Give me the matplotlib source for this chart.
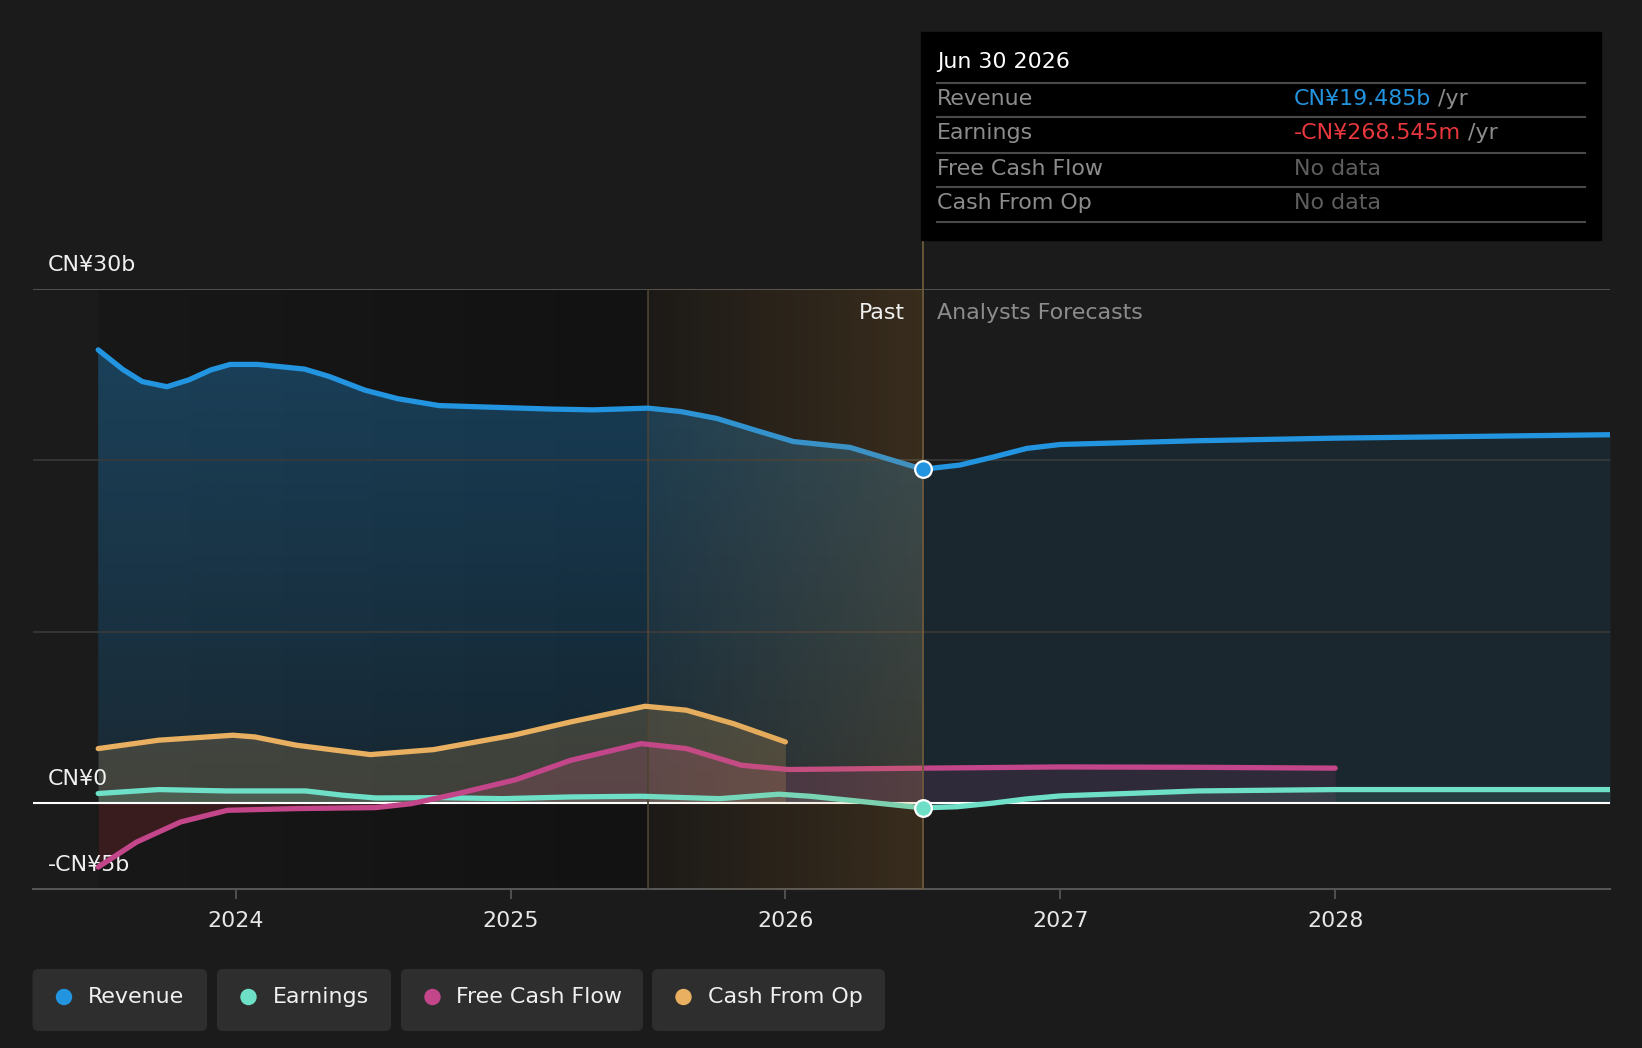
import numpy as np
import matplotlib
matplotlib.use("Agg")
import matplotlib.pyplot as plt
from matplotlib.patches import FancyBboxPatch, Circle, Rectangle, Polygon

W, H = 1642, 1048

# values in CN¥ billions, x in decimal years
rev_x = [2023.5, 2023.59, 2023.66, 2023.75, 2023.83, 2023.91, 2023.98, 2024.08, 2024.25,
         2024.34, 2024.47, 2024.59, 2024.74, 2025.0, 2025.14, 2025.3, 2025.5, 2025.62,
         2025.75, 2025.91, 2026.03, 2026.235, 2026.33, 2026.5, 2026.635, 2026.757, 2026.878,
         2027.0, 2027.5, 2028.0, 2028.5, 2029.0]
rev_y = [26.45, 25.3, 24.6, 24.3, 24.7, 25.28, 25.6, 25.6, 25.33,
         24.9, 24.1, 23.6, 23.2, 23.07, 23.0, 22.95, 23.05, 22.85,
         22.45, 21.67, 21.1, 20.76, 20.3, 19.485, 19.73, 20.2, 20.7,
         20.93, 21.15, 21.3, 21.4, 21.5]

earn_x = [2023.5, 2023.72, 2023.97, 2024.255, 2024.39, 2024.51, 2024.74, 2024.97, 2025.22,
          2025.475, 2025.76, 2025.976, 2026.09, 2026.25, 2026.5, 2026.625, 2026.75, 2026.875,
          2027.0, 2027.5, 2028.0, 2029.0]
earn_y = [0.57, 0.8, 0.72, 0.72, 0.47, 0.31, 0.33, 0.27, 0.37,
          0.41, 0.27, 0.53, 0.41, 0.15, -0.2685, -0.2, 0.0, 0.25,
          0.43, 0.72, 0.8, 0.8]

fcf_x = [2023.5, 2023.64, 2023.8, 2023.97, 2024.22, 2024.51, 2024.64, 2024.81, 2025.02,
         2025.22, 2025.475, 2025.64, 2025.84, 2026.01, 2026.5, 2027.0, 2027.5, 2028.0]
fcf_y = [-3.72, -2.26, -1.09, -0.41, -0.31, -0.25, -0.02, 0.57, 1.38,
         2.51, 3.48, 3.19, 2.22, 1.97, 2.05, 2.12, 2.1, 2.05]

cfo_x = [2023.5, 2023.72, 2023.99, 2024.07, 2024.22, 2024.49, 2024.72, 2025.01, 2025.22,
         2025.49, 2025.64, 2025.81, 2026.0]
cfo_y = [3.19, 3.68, 3.97, 3.87, 3.39, 2.84, 3.13, 3.97, 4.75,
         5.66, 5.43, 4.65, 3.58]

year_ticks = [2024, 2025, 2026, 2027, 2028]
y_labels = {30: "CN¥30b", 0: "CN¥0", -5: "-CN¥5b"}
now_x = 2026.5
shade_x = 2025.5

C_REV = "#2394df"
C_EARN = "#6ee0c8"
C_FCF = "#c4468a"
C_CFO = "#e8b060"
BG = "#1b1b1b"
FS = 15.9

fig = plt.figure(figsize=(W / 100, H / 100), dpi=100, facecolor=BG)
ax = fig.add_axes([32.5 / W, 1 - 889 / H, (1610 - 32.5) / W, 600 / H])
ax.set_facecolor(BG)
X0, X1 = 2023.261, 2029.0

# past background gradient (darker)
g = np.linspace(0, 1, 256)
past = np.zeros((1, 256, 4))
past[..., :3] = ((24 - 6 * g) / 255.0)[None, :, None]
past[..., 3] = 1
ax.imshow(past, extent=[rev_x[0], shade_x, -5, 30], aspect="auto", zorder=0)
ax.add_patch(Rectangle((shade_x, -5), now_x - shade_x, 35, color="#161616", zorder=0))

# revenue fill (past, with vertical gradient)
rx = np.array(rev_x)
ry = np.array(rev_y)
pm = rx <= now_x
verts = list(zip(rx[pm], ry[pm])) + [(now_x, 0), (rev_x[0], 0)]
clip = Polygon(verts, closed=True, fc="none", ec="none")
ax.add_patch(clip)
grad = np.zeros((256, 1, 4))
grad[..., 0] = 35 / 255
grad[..., 1] = 148 / 255
grad[..., 2] = 223 / 255
grad[..., 3] = np.linspace(0.34, 0.14, 256)[:, None]
im = ax.imshow(grad, extent=[rev_x[0], now_x, 0, 27], aspect="auto", zorder=1)
im.set_clip_path(clip)
fm = rx >= now_x
ax.fill_between(rx[fm], ry[fm], 0, color=C_REV, alpha=0.1, lw=0, zorder=1)

# other fills
ex = np.array(earn_x)
ey = np.array(earn_y)
ax.fill_between(ex[ex <= now_x], ey[ex <= now_x], 0, color=C_EARN, alpha=0.18, lw=0, zorder=2)
ax.fill_between(ex[ex >= now_x], ey[ex >= now_x], 0, color=C_EARN, alpha=0.12, lw=0, zorder=2)
fx = np.array(fcf_x)
fy = np.array(fcf_y)
pf = fx <= now_x
ax.fill_between(fx[pf], fy[pf], 0, where=fy[pf] >= 0, interpolate=True,
                color=C_FCF, alpha=0.2, lw=0, zorder=2)
ax.fill_between(fx[pf], fy[pf], 0, where=fy[pf] <= 0, interpolate=True,
                color="#8a2a30", alpha=0.3, lw=0, zorder=2)
ax.fill_between(fx[fx >= now_x], fy[fx >= now_x], 0, color=C_FCF, alpha=0.12, lw=0, zorder=2)
ax.fill_between(cfo_x, cfo_y, 0, color=C_CFO, alpha=0.2, lw=0, zorder=2)

# grid / reference lines
for v in [10, 20]:
    ax.axhline(v, color="#3a3a3a", lw=1.2, zorder=1.5)
ax.axhline(30, color="#555555", lw=1.3, zorder=3)
ax.axhline(0, color="white", lw=1.5, zorder=3)
ax.axvline(shade_x, color="#4a4234", lw=1.2, zorder=3)

# lines
ax.plot(rev_x, rev_y, color=C_REV, lw=3.8, solid_capstyle="round", solid_joinstyle="round", zorder=5)
ax.plot(earn_x, earn_y, color=C_EARN, lw=3.8, solid_capstyle="round", solid_joinstyle="round", zorder=5)
ax.plot(fcf_x, fcf_y, color=C_FCF, lw=3.8, solid_capstyle="round", solid_joinstyle="round", zorder=5.2)
ax.plot(cfo_x, cfo_y, color=C_CFO, lw=3.8, solid_capstyle="round", solid_joinstyle="round", zorder=5.2)

# brown highlight over last past year
ov = np.zeros((1, 256, 4))
ov[..., 0] = 197 / 255
ov[..., 1] = 137 / 255
ov[..., 2] = 57 / 255
ov[..., 3] = np.linspace(0.04, 0.2, 256)[None, :]
ax.imshow(ov, extent=[shade_x, now_x, -5, 30], aspect="auto", zorder=6)
ax.plot([now_x, now_x], [-5, 32.86], color="#6e5a3c", lw=1.3, zorder=6.5, clip_on=False)

# markers at the tooltip date
ax.plot([now_x], [rev_y[rev_x.index(now_x)]], "o", ms=12, color=C_REV, mec="white", mew=1.6, zorder=8)
ax.plot([now_x], [earn_y[earn_x.index(now_x)]], "o", ms=12, color=C_EARN, mec="white", mew=1.6, zorder=8)

ax.set_xlim(X0, X1)
ax.set_ylim(-5, 30)
ax.set_yticks([])
ax.set_xticks(year_ticks)
ax.set_xticklabels([str(y) for y in year_ticks])
ax.tick_params(axis="x", colors="#555555", length=7, width=1.3, pad=9, labelsize=FS, labelcolor="#e8e8e8")
for s in ["top", "left", "right"]:
    ax.spines[s].set_visible(False)
ax.spines["bottom"].set_color("#555555")
ax.spines["bottom"].set_linewidth(1.5)

for v, lab in y_labels.items():
    ax.annotate(lab, xy=(0, v), xycoords=("axes fraction", "data"), xytext=(11.2, 17.3),
                textcoords="offset points", va="center", ha="left", color="#f0f0f0", fontsize=FS)

# overlay in pixel coordinates for tooltip, labels and legend
ov_ax = fig.add_axes([0, 0, 1, 1], facecolor="none")
ov_ax.set_xlim(0, W)
ov_ax.set_ylim(H, 0)
ov_ax.axis("off")

ov_ax.text(905, 313, "Past", ha="right", va="center", color="#f0f0f0", fontsize=FS)
ov_ax.text(937, 313, "Analysts Forecasts", ha="left", va="center", color="#8c8c8c", fontsize=FS)

ov_ax.add_patch(Rectangle((921, 32), 680, 208, color="black", zorder=1))
ov_ax.text(937, 62, "Jun 30 2026", ha="left", va="center", color="white", fontsize=FS, zorder=2)
for yy in [82.7, 116.7, 152.7, 186.7, 222]:
    ov_ax.plot([937, 1585], [yy, yy], color="#4a4a4a", lw=1.5, zorder=2)
rows = [("Revenue", "CN¥19.485b", C_REV, " /yr"),
        ("Earnings", "-CN¥268.545m", "#e8383d", " /yr"),
        ("Free Cash Flow", "No data", "#5e5e5e", ""),
        ("Cash From Op", "No data", "#5e5e5e", "")]
row_y = [99, 133, 169, 203]
for (name, val, col, suf), yy in zip(rows, row_y):
    ov_ax.text(937, yy, name, ha="left", va="center", color="#8c8c8c", fontsize=FS, zorder=2)
    t = ov_ax.text(1294, yy, val, ha="left", va="center", color=col, fontsize=FS, zorder=2)
    if suf:
        ov_ax.annotate(suf, xy=(1, 0.5), xycoords=t, va="center", ha="left",
                       color="#8c8c8c", fontsize=FS, zorder=2)

legend_items = [("Revenue", C_REV, 32.5, 207), ("Earnings", C_EARN, 217, 391),
                ("Free Cash Flow", C_FCF, 401, 643), ("Cash From Op", C_CFO, 652, 885)]
for name, col, lx, rx_ in legend_items:
    ov_ax.add_patch(FancyBboxPatch((lx, 969), rx_ - lx, 62, boxstyle="round,pad=0,rounding_size=6",
                                   fc="#2e2e2e", ec="none"))
    ov_ax.add_patch(Circle((lx + 31.5, 997), 7.5, color=col))
    ov_ax.text(lx + 55.5, 997, name, ha="left", va="center", color="#f0f0f0", fontsize=FS)

fig.savefig("out.png", dpi=100, facecolor=BG)
